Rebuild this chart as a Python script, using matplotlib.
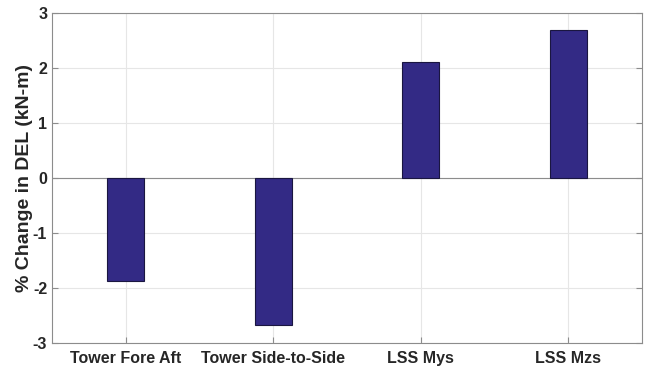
import matplotlib.pyplot as plt

# percent change in damage equivalent load per channel
channels = ['Tower Fore Aft', 'Tower Side-to-Side', 'LSS Mys', 'LSS Mzs']
pct_change = [-1.88, -2.68, 2.11, 2.69]

plt.rcParams['font.family'] = ['Liberation Sans', 'DejaVu Sans']
plt.rcParams['font.weight'] = 'bold'
plt.rcParams['axes.unicode_minus'] = False

fig = plt.figure(figsize=(6.47, 3.75), dpi=100)
ax = fig.add_axes([0.0804, 0.0853, 0.9119, 0.88])

x = range(1, len(channels) + 1)
ax.bar(x, pct_change, width=0.25, color='#332a85', edgecolor='#1a1640',
       linewidth=0.8, zorder=3)
ax.axhline(0, color='#8c8c8c', linewidth=0.8, zorder=2)

ax.set_xlim(0.5, 4.5)
ax.set_ylim(-3, 3)
ax.set_xticks(list(x))
ax.set_xticklabels(channels)
ax.set_yticks(range(-3, 4))
ax.set_ylabel('% Change in DEL (kN-m)', fontsize=14, fontweight='bold',
              color='#262626', labelpad=0)

ax.grid(True, color='#e6e6e6', linewidth=0.8, zorder=0)
ax.tick_params(direction='in', length=4, color='#8c8c8c', labelsize=11.5,
               labelcolor='#262626', top=False, right=True)
ax.tick_params(axis='x', pad=6)
for s in ax.spines.values():
    s.set_color('#8c8c8c')
    s.set_linewidth(0.8)

fig.savefig('out.png', dpi=100)
